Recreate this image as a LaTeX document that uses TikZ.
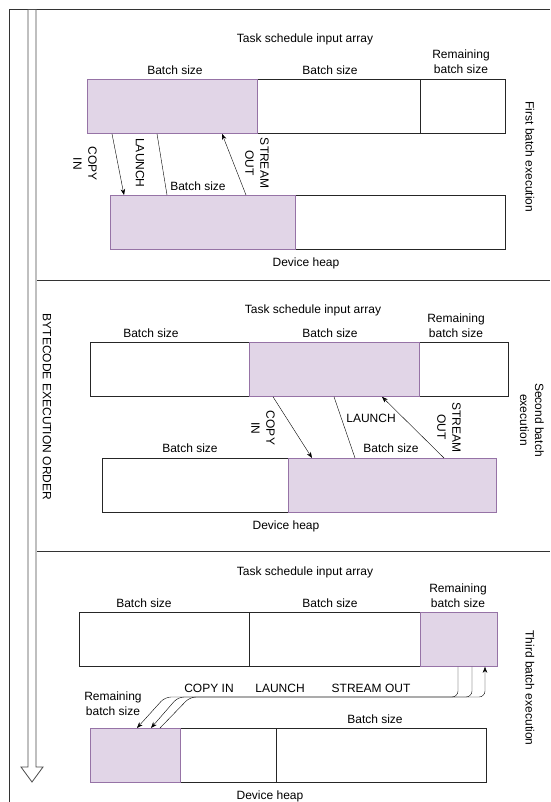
\documentclass[tikz,border=0pt]{standalone}
\usepackage{fontspec}
\setmainfont{Liberation Sans}
\usetikzlibrary{arrows.meta}
\definecolor{batchfill}{HTML}{E1D5E7}
\definecolor{batchdraw}{HTML}{9673A6}

\begin{document}
\begin{tikzpicture}[x=1pt, y=-1pt,
        font=\fontsize{12}{15}\selectfont,
        >={Stealth[length=6pt,width=4.5pt]},
        cell/.style={rectangle, draw=black!85, line width=0.8pt, minimum height=54pt, anchor=north west, inner sep=0pt},
        busy/.style={cell, fill=batchfill, draw=batchdraw},
        txt/.style={inner sep=0pt, align=center},
        vtxt/.style={txt, rotate=-90},
        rule/.style={line width=0.8pt, draw=black!80}]

                \useasboundingbox (0,0) rectangle (550,802);

                % Frame and order arrow
                \draw[rule] (9.5,802) -- (9.5,9.5) -- (550,9.5);
                \draw[rule] (37,280) -- (550,280);
                \draw[rule] (37,551) -- (550,551);
                \draw[rule, draw=black!70, fill=white] (28,9.5) -- (28,767) -- (21,767) -- (32,782) -- (43,767) -- (36,767) -- (36,9.5) -- cycle;
                \node[vtxt] (order) at (47,407) {BYTECODE EXECUTION ORDER};

                % First batch
                \node[txt] (tsia1) at (305,39) {Task schedule input array};
                \node[txt] (bs1a) at (175,70) {Batch size};
                \node[txt] (bs1b) at (330,70) {Batch size};
                \node[txt] (rbs1) at (461,62) {Remaining\\batch size};
                \node[cell, minimum width=163pt] (in1b) at (257,79) {};
                \node[cell, minimum width=85pt] (in1c) at (420,79) {};
                \node[busy, minimum width=170pt] (in1a) at (87,79) {};
                \node[cell, minimum width=210pt] (heap1b) at (295,195) {};
                \node[busy, minimum width=185pt] (heap1a) at (110,195) {};
                \node[txt] (bs1c) at (198,186) {Batch size};
                \node[txt] (dh1) at (306,263) {Device heap};
                \node[vtxt] (ci1) at (85,164) {COPY\\IN};
                \node[vtxt] (la1) at (140,163) {LAUNCH};
                \node[vtxt] (so1) at (257,163) {STREAM\\OUT};
                \node[vtxt] (ex1) at (530,157) {First batch execution};

                \draw[->] ([xshift=25pt]in1a.south west) -- ([xshift=14pt]heap1a.north west);
                \draw ([xshift=70pt]in1a.south west) -- ([xshift=57pt]heap1a.north west);
                \draw[->] ([xshift=136pt]heap1a.north west) -- ([xshift=135pt]in1a.south west);

                % Second batch
                \node[txt] (tsia2) at (313,310) {Task schedule input array};
                \node[txt] (bs2a) at (151,333) {Batch size};
                \node[txt] (bs2b) at (330,333) {Batch size};
                \node[txt] (rbs2) at (456,325.5) {Remaining\\batch size};
                \node[cell, minimum width=159pt] (in2a) at (90,342) {};
                \node[cell, minimum width=89pt] (in2c) at (419,342) {};
                \node[busy, minimum width=170pt] (in2b) at (249,342) {};
                \node[cell, minimum width=186pt] (heap2a) at (102,458) {};
                \node[busy, minimum width=208pt] (heap2b) at (288,458) {};
                \node[txt] (bs2c) at (190,448) {Batch size};
                \node[txt] (bs2d) at (391,448) {Batch size};
                \node[txt] (dh2) at (286,526) {Device heap};
                \node[vtxt] (ci2) at (263,428) {COPY\\IN};
                \node[txt] (la2) at (371,418) {LAUNCH};
                \node[vtxt] (so2) at (449,427) {STREAM\\OUT};
                \node[vtxt] (ex2) at (532,420) {Second batch\\execution};

                \draw[->] ([xshift=24pt]in2b.south west) -- ([xshift=24pt]heap2b.north west);
                \draw ([xshift=85pt]in2b.south west) -- ([xshift=67pt]heap2b.north west);
                \draw[->] ([xshift=156pt]heap2b.north west) -- ([xshift=133pt]in2b.south west);

                % Third batch
                \node[txt] (tsia3) at (305,572) {Task schedule input array};
                \node[txt] (bs3a) at (144,603) {Batch size};
                \node[txt] (bs3b) at (330,603) {Batch size};
                \node[txt] (rbs3) at (458,595.5) {Remaining\\batch size};
                \node[cell, minimum width=170pt] (in3a) at (79,612) {};
                \node[cell, minimum width=171pt] (in3b) at (249,612) {};
                \node[busy, minimum width=77pt] (in3c) at (420,612) {};
                \node[cell, minimum width=96pt] (heap3b) at (180,728) {};
                \node[cell, minimum width=210pt] (heap3c) at (276,728) {};
                \node[busy, minimum width=90pt] (heap3a) at (90,728) {};
                \node[txt] (bs3c) at (375,719) {Batch size};
                \node[txt] (rbs3b) at (113,704) {Remaining\\batch size};
                \node[txt] (dh3) at (270,796) {Device heap};
                \node[txt] (ci3) at (209,688) {COPY IN};
                \node[txt] (la3) at (280,688) {LAUNCH};
                \node[txt] (so3) at (371,688) {STREAM OUT};
                \node[vtxt] (ex3) at (530,688) {Third batch execution};

                \coordinate (bend3a) at (165,697);
                \coordinate (bend3b) at (178,697);
                \coordinate (bend3c) at (190,697);
                \draw[->, rounded corners=6pt] ([xshift=38pt]in3c.south west) |- (bend3a) -- ([xshift=47pt]heap3a.north west);
                \draw[->, rounded corners=6pt] ([xshift=52pt]in3c.south west) |- (bend3b) -- ([xshift=61pt]heap3a.north west);
                \draw[->, rounded corners=6pt] ([xshift=70pt]heap3a.north west) -- (bend3c) -| ([xshift=65pt]in3c.south west);

\end{tikzpicture}
\end{document}
